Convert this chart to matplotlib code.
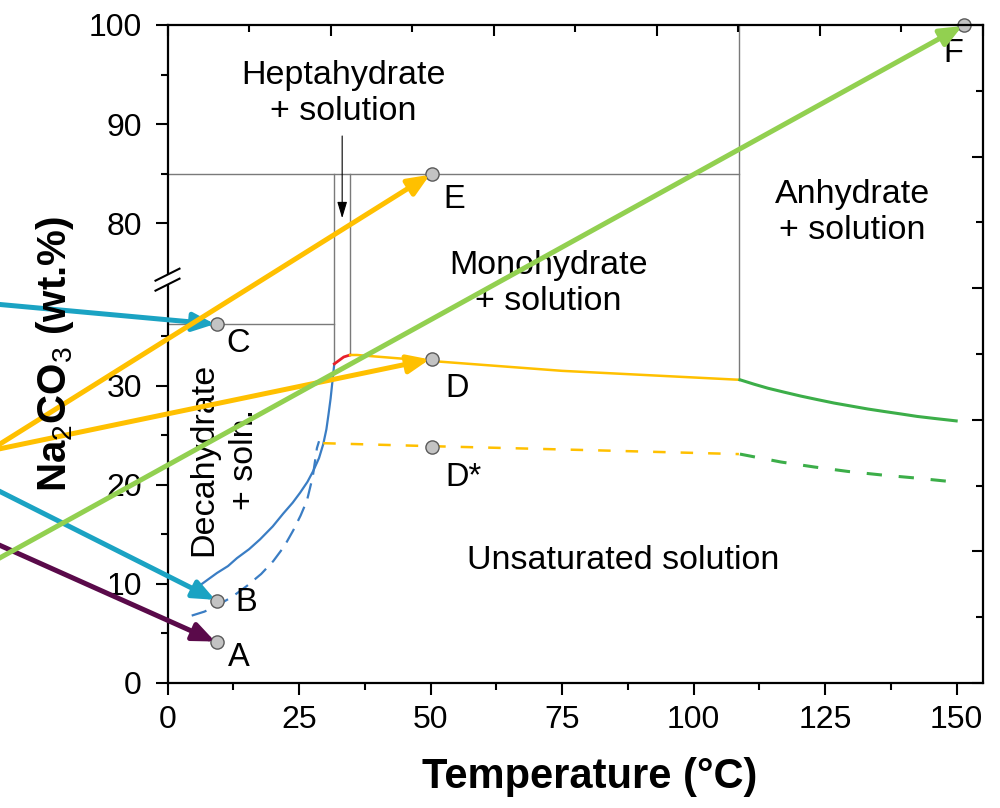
import numpy as np
import matplotlib.pyplot as plt
from matplotlib.patches import Polygon
from matplotlib.lines import Line2D
from matplotlib.ticker import MultipleLocator, FixedLocator

plt.rcParams['font.family'] = ['Liberation Sans', 'DejaVu Sans']
plt.rcParams['mathtext.fontset'] = 'custom'
plt.rcParams['mathtext.rm'] = 'Liberation Sans'
plt.rcParams['mathtext.it'] = 'Liberation Sans:italic'
plt.rcParams['mathtext.bf'] = 'Liberation Sans:bold'

# --- Na2CO3 - H2O phase diagram data (T in degC, Na2CO3 in wt.%) ---
# decahydrate solubility (stable) and metastable extension
deca_T = [5.2, 6.8, 9.4, 11.5, 13.2, 15.5, 17.6, 20.0, 22.0, 23.8, 25.2, 26.6, 27.7,
          28.8, 29.6, 30.2, 30.6, 31.0, 31.3, 31.7]
deca_w = [9.5, 10.1, 11.1, 11.8, 12.6, 13.5, 14.5, 15.8, 17.1, 18.2, 19.2, 20.3, 21.4,
          22.7, 24.1, 25.6, 27.1, 28.7, 30.2, 32.2]
deca_meta_T = [4.6, 7.0, 9.4, 12.3, 15.1, 17.8, 20.1, 22.2, 23.9, 25.3, 26.5, 27.6, 28.4, 28.8]
deca_meta_w = [6.8, 7.2, 7.8, 8.7, 9.8, 11.0, 12.3, 13.8, 15.4, 16.9, 18.4, 20.8, 23.7, 24.4]
# heptahydrate
hepta_T = [31.7, 33.5, 34.7]
hepta_w = [32.2, 32.9, 33.1]
# monohydrate (stable / metastable)
mono_T = [34.7, 36.0, 50.0, 60.0, 75.0, 90.0, 108.6]
mono_w = [33.1, 33.1, 32.5, 32.1, 31.5, 31.1, 30.6]
mono_meta_T = [29.6, 50.0, 80.0, 108.6]
mono_meta_w = [24.2, 23.9, 23.5, 23.1]
# anhydrate (stable / metastable)
anhy_T = [108.8, 111.5, 114.1, 117.2, 120.4, 123.5, 126.7, 129.9, 133.1, 136.2, 139.4,
          142.5, 145.7, 149.9]
anhy_w = [30.6, 30.15, 29.75, 29.35, 28.95, 28.6, 28.25, 27.95, 27.65, 27.4, 27.15,
          26.9, 26.7, 26.45]
anhy_meta_T = [108.8, 112.7, 116.6, 122.9, 129.3, 135.6, 141.9, 148.4, 149.6]
anhy_meta_w = [23.1, 22.7, 22.3, 21.8, 21.35, 21.0, 20.7, 20.35, 20.3]

# transition temperatures and compositions for the guide lines
T_hepta_lo, T_hepta_hi, T_anhy = 31.7, 34.7, 108.6
w_hepta_lo, w_hepta_hi, w_anhy = 32.2, 33.1, 30.6
w_mono_solid = 85.0
w_C_line = 36.2

# sample points
pt_names = ['A', 'B', 'C', 'D', 'D*', 'E', 'F']
pt_T = [9.4, 9.4, 9.4, 50.2, 50.2, 50.2, 151.4]
pt_w = [4.1, 8.3, 36.2, 32.7, 23.8, 85.0, 100.0]

# arrows coming in from the left towards the points
arrow_start_T = -34.0
arrow_start_w = [14.4, 19.9, 38.3, 23.4, 23.4, 12.0]
arrow_target = ['A', 'B', 'C', 'D', 'E', 'F']
arrow_colors = ['#5a0a4a', '#1ba3c3', '#1ba3c3', '#ffc000', '#ffc000', '#92d050']

low_lim = (0, 40.4)
up_lim = (74, 100)
x_lim = (0, 155)

fig = plt.figure(figsize=(10, 8.08), dpi=100)

left, right = 0.1675, 0.983
bottom, top = 1 - 683 / 808, 1 - 25 / 808
span = (low_lim[1] - low_lim[0]) + (up_lim[1] - up_lim[0])
h_low = (top - bottom) * (low_lim[1] - low_lim[0]) / span
h_up = (top - bottom) - h_low

ax_low = fig.add_axes([left, bottom, right - left, h_low])
ax_up = fig.add_axes([left, bottom + h_low, right - left, h_up])
ax_fr = fig.add_axes([left, bottom, right - left, top - bottom])

for ax in (ax_low, ax_up):
    ax.set_xlim(*x_lim)
    ax.spines['right'].set_visible(False)
    ax.spines['top'].set_visible(False)
    ax.spines['left'].set_linewidth(1.6)
    ax.spines['bottom'].set_linewidth(1.6)
    ax.tick_params(which='major', length=8.5, width=1.5, labelsize=23, pad=7)
    ax.tick_params(which='minor', length=5, width=1.5)
    ax.tick_params(axis='y', which='major', pad=10)
    ax.patch.set_visible(False)

ax_low.set_ylim(*low_lim)
ax_up.set_ylim(*up_lim)
ax_up.spines['bottom'].set_visible(False)
ax_up.tick_params(axis='x', which='both', bottom=False, labelbottom=False)

ax_low.xaxis.set_major_locator(MultipleLocator(25))
ax_low.xaxis.set_minor_locator(MultipleLocator(12.5))
ax_low.yaxis.set_major_locator(FixedLocator([0, 10, 20, 30]))
ax_low.yaxis.set_minor_locator(FixedLocator([5, 15, 25, 35]))
ax_up.yaxis.set_major_locator(FixedLocator([80, 90, 100]))
ax_up.yaxis.set_minor_locator(FixedLocator([85, 95]))

# frame: top and right with inward ticks
ax_fr.patch.set_visible(False)
ax_fr.set_xlim(0, 10)
ax_fr.set_ylim(0, 10)
ax_fr.spines['left'].set_visible(False)
ax_fr.spines['bottom'].set_visible(False)
ax_fr.spines['top'].set_linewidth(1.6)
ax_fr.spines['right'].set_linewidth(1.6)
ax_fr.xaxis.set_major_locator(MultipleLocator(2))
ax_fr.xaxis.set_minor_locator(MultipleLocator(1))
ax_fr.yaxis.set_major_locator(MultipleLocator(2))
ax_fr.yaxis.set_minor_locator(MultipleLocator(1))
ax_fr.tick_params(which='both', direction='in', top=True, right=True, bottom=False, left=False,
                  labeltop=False, labelright=False, labelbottom=False, labelleft=False, width=1.5)
ax_fr.tick_params(which='major', length=8)
ax_fr.tick_params(which='minor', length=5)

# guide lines
gl = dict(color='#7a7a7a', lw=1.0, zorder=1)
ax_low.plot([0, T_hepta_lo], [w_C_line, w_C_line], **gl)
ax_up.plot([0, T_anhy], [w_mono_solid, w_mono_solid], **gl)
for T, w0 in [(T_hepta_lo, w_hepta_lo), (T_hepta_hi, w_hepta_hi)]:
    ax_low.plot([T, T], [w0, low_lim[1]], **gl)
    ax_up.plot([T, T], [up_lim[0], w_mono_solid], **gl)
ax_low.plot([T_anhy, T_anhy], [w_anhy, low_lim[1]], **gl)
ax_up.plot([T_anhy, T_anhy], [up_lim[0], up_lim[1]], **gl)
ax_up.annotate('', xy=(33.2, 80.5), xytext=(33.2, 88.8),
               arrowprops=dict(arrowstyle='-|>,head_length=1.0,head_width=0.3', color='black',
                               lw=0.8, shrinkA=0, shrinkB=0, mutation_scale=10))

# solubility curves
ax_low.plot(deca_T, deca_w, color='#3a7dc4', lw=1.6, zorder=2)
ax_low.plot(deca_meta_T, deca_meta_w, color='#3a7dc4', lw=1.6, ls=(0, (7, 4)), zorder=2)
ax_low.plot(hepta_T, hepta_w, color='#e8202a', lw=2.0, zorder=2)
ax_low.plot(mono_T, mono_w, color='#ffc000', lw=1.8, zorder=2)
ax_low.plot(mono_meta_T, mono_meta_w, color='#ffc000', lw=1.8, ls=(0, (5, 6)), zorder=2)
ax_low.plot(anhy_T, anhy_w, color='#3cae49', lw=2.2, zorder=2)
ax_low.plot(anhy_meta_T, anhy_meta_w, color='#3cae49', lw=2.2, ls=(0, (5, 5.5)), zorder=2)

# region labels
txt = dict(fontsize=24.5, ha='center', va='center', linespacing=1.2)
ax_up.text(33.4, 93.1, 'Heptahydrate\n+ solution', **txt)
ax_low.text(72.4, 40.3, 'Monohydrate\n+ solution', **txt)
ax_up.text(130.2, 81.1, 'Anhydrate\n+ solution', **txt)
ax_low.text(10.7, 22.6, 'Decahydrate\n+ soln.', rotation=90, fontsize=24.5, ha='center',
            va='center', linespacing=1.4)
ax_low.text(86.7, 12.4, 'Unsaturated solution', **txt)

# sample points and their labels
label_offsets = {'A': (11, -15), 'B': (18, -2), 'C': (9, -19), 'D': (14, -30),
                 'D*': (14, -30), 'E': (12, -26), 'F': (-21, -29)}
pt_ax = {}
for name, T, w in zip(pt_names, pt_T, pt_w):
    ax = ax_up if w > 60 else ax_low
    pt_ax[name] = (ax, T, w)
    ax.plot([T], [w], 'o', ms=9.5, mfc='#c3c3c3', mec='#5a5a5a', mew=1.0, zorder=6, clip_on=False)
    ax.annotate(name, xy=(T, w), xytext=label_offsets[name], textcoords='offset pixels',
                fontsize=23.5, ha='left', va='center', annotation_clip=False)

# arrows from the left edge
for w0, name, c in zip(arrow_start_w, arrow_target, arrow_colors):
    ax, T, w = pt_ax[name]
    ax_fr.annotate('', xy=(T, w), xycoords=ax.transData,
                   xytext=(arrow_start_T, w0), textcoords=ax_low.transData,
                   arrowprops=dict(arrowstyle='-|>,head_length=1.3,head_width=0.55', color=c,
                                   lw=3.6, shrinkA=0, shrinkB=1.5, mutation_scale=10),
                   annotation_clip=False, zorder=8)

# axis break mark on the left spine
yb = bottom + h_low
sx, sy = 1 / 1000, 1 / 808
brk = Polygon([(left - 12 * sx, yb - 8 * sy), (left + 12 * sx, yb + 4 * sy),
               (left + 12 * sx, yb + 14 * sy), (left - 12 * sx, yb + 2 * sy)],
              closed=True, transform=fig.transFigure, facecolor='white', edgecolor='none', zorder=2)
fig.add_artist(brk)
for d in (-8, 2):
    fig.add_artist(Line2D([left - 12 * sx, left + 12 * sx], [yb + d * sy, yb + (d + 12) * sy],
                          transform=fig.transFigure, color='black', lw=1.5, zorder=2))

# axis titles
fig.text(0.055, 1 - 354 / 808, r'Na$_2$CO$_3$ (wt.%)', rotation=90, fontsize=29,
         fontweight='bold', ha='center', va='center')
fig.text(0.59, 1 - 777 / 808, 'Temperature (°C)', fontsize=30, fontweight='bold',
         ha='center', va='center')

fig.savefig('out.png', dpi=100)
